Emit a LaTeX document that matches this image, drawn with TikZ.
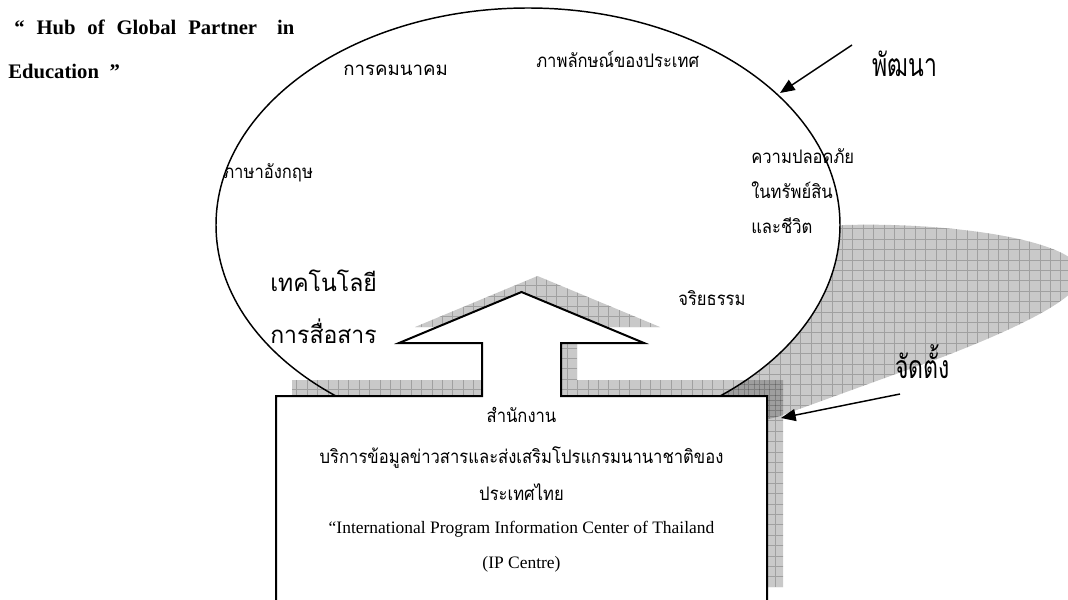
\documentclass[tikz,border=0pt]{standalone}
\usepackage{fontspec}
\setmainfont{Liberation Serif}
\newfontfamily\thai[Script=Thai,FakeStretch=0.89]{Loma}
\newfontfamily\thaiw[Script=Thai]{Loma}
\newfontfamily\thaimid[Script=Thai,FakeStretch=0.96]{Loma}
\newfontfamily\thaibig[Script=Thai,FakeStretch=0.72]{Loma}
\usetikzlibrary{shapes.geometric,arrows.meta}
\newcommand\ipshape{(276,603) -- (276,396) -- (482,396) -- (482,343) -- (399,343) -- (521.5,292) -- (644,343) -- (561,343) -- (561,396) -- (767,396) -- (767,603) -- cycle}
\newcommand\bigshadow{(700,330) .. controls (740,280) and (790,228) .. (845,225) .. controls (950,222) and (1082,240) .. (1082,275) .. controls (1082,300) and (1000,335) .. (940,358) -- (780,416) .. controls (765,421) and (745,422) .. (730,420) -- cycle}
\begin{document}
\begin{tikzpicture}[x=0.75pt,y=-0.75pt,
  tsm/.style={font=\thai\fontsize{14}{16}\selectfont, inner sep=0pt},
  tsmw/.style={font=\thaiw\fontsize{14}{16}\selectfont, inner sep=0pt},
  tmid/.style={font=\thaimid\fontsize{18}{20}\selectfont, inner sep=0pt},
  tbig/.style={font=\thaibig\fontsize{24}{26}\selectfont, inner sep=0pt},
  eng/.style={font=\fontsize{13.1}{15}\selectfont, inner sep=0pt},
  hub/.style={font=\bfseries\fontsize{15.5}{18}\selectfont, inner sep=0pt},
  shadefill/.style={fill=black, fill opacity=0.21},
  gridline/.style={draw=black, draw opacity=0.2, line width=0.6pt},
  pointer/.style={line width=1.1pt, -{Triangle[length=11pt, width=9pt]}}
]
\clip (0,0) rectangle (1068,600);
\fill[white] (0,0) rectangle (1068,600);
% large shadow of the oval
\begin{scope}
  \clip \bigshadow;
  \fill[shadefill] (0,0) rectangle (1068,600);
  \draw[gridline] (0,0) grid[xstep=7.8pt, ystep=7.8pt] (1068,600);
\end{scope}
% white oval
\fill[white] (528,225) ellipse [x radius=312, y radius=217];
% shadow of the arrow box
\begin{scope}[shift={(16,-16)}]
  \clip \ipshape;
  \fill[shadefill] (-16,16) rectangle (1084,616);
  \draw[gridline] (-16,16) grid[xstep=7.8pt, ystep=7.8pt] (1084,616);
\end{scope}
% oval outline
\node[draw, ellipse, line width=1.1pt, minimum width=468pt, minimum height=325.5pt, inner sep=0pt] (oval) at (528,225) {};
% arrow box
\draw[fill=white, line width=1.5pt, line join=miter] \ipshape;
% labels
\node[hub, anchor=base west] (hub1) at (14,34) {\makebox[210pt][s]{“ Hub of Global Partner\hspace{6pt} in}};
\node[hub, anchor=base west] (hub2) at (8,78) {Education\hspace{8pt}”};
\node[tsmw, anchor=base west] (kom) at (343,75) {การคมนาคม};
\node[tsm, anchor=base west] (pap) at (536,67) {ภาพลักษณ์ของประเทศ};
\node[tbig, anchor=base west] (pat) at (872,76) {พัฒนา};
\node[tsm, anchor=base west] (eng) at (223,178) {ภาษาอังกฤษ};
\node[tsm, anchor=base west] (saf1) at (751,163) {ความปลอดภัย};
\node[tsm, anchor=base west] (saf2) at (751,198) {ในทรัพย์สิน};
\node[tsm, anchor=base west] (saf3) at (751,233) {และชีวิต};
\node[tsm, anchor=base west] (jri) at (678,305) {จริยธรรม};
\node[tmid, anchor=base west] (tech1) at (270,291) {เทคโนโลยี};
\node[tmid, anchor=base west] (tech2) at (270,343) {การสื่อสาร};
\node[tbig, anchor=base west] (jad) at (895,378) {จัดตั้ง};
\node[tsm, anchor=base] (b1) at (521.5,422) {สำนักงาน};
\node[tsm, anchor=base] (b2) at (521.5,463) {บริการข้อมูลข่าวสารและส่งเสริมโปรแกรมนานาชาติของ};
\node[tsm, anchor=base] (b3) at (521.5,500) {ประเทศไทย};
\node[eng, anchor=base] (b4) at (521.5,533) {“International Program Information Center of Thailand};
\node[eng, anchor=base] (b5) at (521.5,568) {(IP Centre)};
% pointers
\coordinate (p1s) at (852,45);
\coordinate (p1e) at (780,93);
\coordinate (p2s) at (900,394);
\coordinate (p2e) at (781,418);
\draw[pointer] (p1s) -- (p1e);
\draw[pointer] (p2s) -- (p2e);
\end{tikzpicture}
\end{document}
